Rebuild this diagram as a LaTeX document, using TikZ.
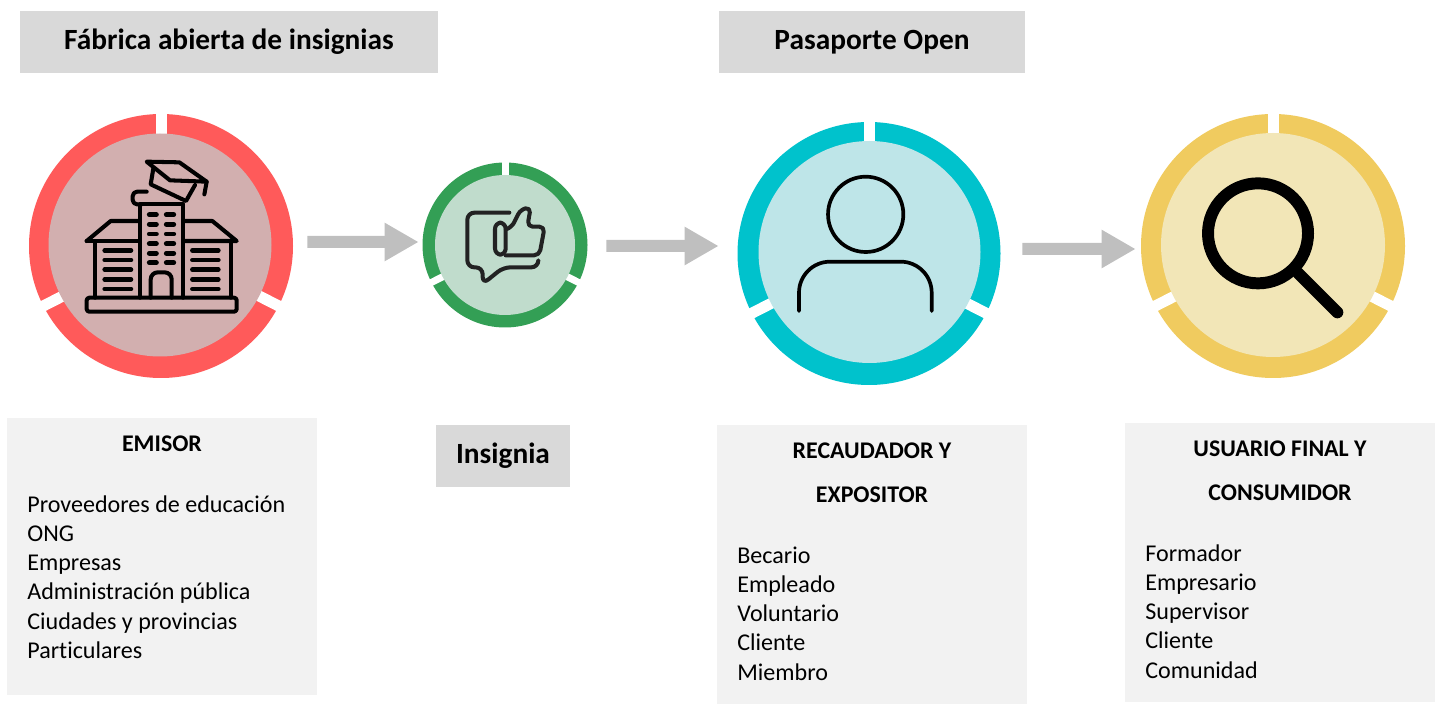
\documentclass[tikz,border=0pt]{standalone}
\usepackage{fontspec}
\setmainfont[Ligatures=NoCommon]{Carlito}
\usepackage{tikz}
\usetikzlibrary{
    arrows.meta,
    positioning
}
\usepackage{xcolor}
\definecolor{headgray}{RGB}{217,217,217}
\definecolor{panelgray}{RGB}{242,242,242}
\definecolor{arrowgray}{RGB}{191,191,191}
\definecolor{ringred}{RGB}{255,90,90}
\definecolor{discred}{RGB}{210,175,175}
\definecolor{ringgreen}{RGB}{51,159,85}
\definecolor{discgreen}{RGB}{192,220,204}
\definecolor{ringteal}{RGB}{0,194,204}
\definecolor{discteal}{RGB}{190,229,232}
\definecolor{ringyellow}{RGB}{240,203,95}
\definecolor{discyellow}{RGB}{242,230,183}
\definecolor{icondark}{RGB}{34,34,34}

\begin{document}
\begin{tikzpicture}[
    x=1cm, y=1cm,
    header/.style={rectangle, fill=headgray, minimum height=1.24cm, font=\fontsize{16.7}{20}\selectfont\bfseries},
    panel/.style={rectangle, fill=panelgray, minimum width=6.2cm, minimum height=5.58cm},
    paneltitle/.style={font=\fontsize{13.6}{25}\selectfont\bfseries, align=center, inner sep=0pt},
    panellist/.style={font=\fontsize{13.7}{16.6}\selectfont, align=left, anchor=west, inner sep=0pt},
    ring/.style={circle, inner sep=0pt},
    disc/.style={circle, inner sep=0pt},
    ringgap/.style={white, line width=0.22cm},
    arrow/.style={-{Triangle[length=6.8mm,width=7.2mm]}, arrowgray, line width=0.24cm},
    iconline/.style={line width=2.3pt, line cap=round, line join=round},
    zoomgrid/.style={x=0.006667cm, y=-0.006667cm}
]
\useasboundingbox (0,0) rectangle (28.86,14.08);

% === HEADERS ===
\node[header, minimum width=8.36cm] (fabrica) at (4.58, 13.24) {Fábrica abierta de insignias};
\node[header, minimum width=6.12cm] (pasaporte) at (17.44, 13.24) {Pasaporte Open};

% === EMISOR CIRCLE ===
\node[ring, fill=ringred, minimum size=5.28cm] (emisor) at (3.22, 9.16) {};
\draw[ringgap] (emisor.center) -- ++(90:2.68);
\draw[ringgap] (emisor.center) -- ++(207:2.68);
\draw[ringgap] (emisor.center) -- ++(333:2.68);
\node[disc, fill=discred, minimum size=4.46cm] (emisordisc) at (3.20, 9.18) {};

% Building icon
\begin{scope}[xshift=0.4cm, yshift=11.98cm, zoomgrid, iconline, black]
    \draw[rounded corners=1.5pt] (200,578) rectangle (650,620);
    \draw (226,408) -- (226,578);
    \draw (632,408) -- (632,578);
    \draw (200,408) -- (272,348) -- (358,348);
    \draw (200,408) -- (358,408);
    \draw (490,348) -- (577,348) -- (650,408) -- (490,408);
    \draw (360,578) -- (360,298) -- (490,298) -- (490,578);
    \draw[rounded corners=2.5pt] (365,298) -- (338,298) -- (338,260) -- (380,260);
    \draw[rounded corners=4pt] (392,578) -- (392,502) -- (455,502) -- (455,578);
    % windows
    \foreach \wy in {329,358,387,416,445,473} {
        \draw[line width=2.8pt] (388,\wy) -- (409,\wy);
        \draw[line width=2.8pt] (439,\wy) -- (461,\wy);
    }
    \foreach \wy in {436,465,494,523,552} {
        \draw[line width=2.6pt] (254,\wy) -- (333,\wy);
        \draw[line width=2.6pt] (517,\wy) -- (595,\wy);
    }
    % cap
    \draw (380,170) -- (478,172) -- (560,230) -- (450,226) -- cycle;
    \draw (400,190) -- (392,238) -- (498,288) -- (525,240);
    \draw (560,230) -- (553,268);
\end{scope}

% === INSIGNIA CIRCLE ===
\node[ring, fill=ringgreen, minimum size=3.30cm] (insignia) at (10.10, 9.18) {};
\draw[ringgap, line width=0.14cm] (insignia.center) -- ++(90:1.69);
\draw[ringgap, line width=0.14cm] (insignia.center) -- ++(207:1.69);
\draw[ringgap, line width=0.14cm] (insignia.center) -- ++(333:1.69);
\node[disc, fill=discgreen, minimum size=2.80cm] (insigniadisc) at (10.10, 9.18) {};

% Thumb icon
\begin{scope}[xshift=8.2cm, yshift=11.08cm, zoomgrid, iconline, icondark]
    \draw[rounded corners=4pt] (298,188) -- (172,188) -- (172,352) -- (218,352) -- (218,402) -- (280,352) -- (385,352) -- (385,332);
    \draw[rounded corners=3.5pt] (255,218) rectangle (287,314);
    \draw[rounded corners=3pt] (287,238) -- (305,232) -- (332,178) -- (362,172) -- (352,230) -- (404,230) -- (388,316) -- (287,316);
\end{scope}

% === EXPOSITOR CIRCLE ===
\node[ring, fill=ringteal, minimum size=5.26cm] (expositor) at (17.38, 9.01) {};
\draw[ringgap] (expositor.center) -- ++(90:2.67);
\draw[ringgap] (expositor.center) -- ++(207:2.67);
\draw[ringgap] (expositor.center) -- ++(333:2.67);
\node[disc, fill=discteal, minimum size=4.44cm] (expositordisc) at (17.39, 9.04) {};

% Person icon
\begin{scope}[xshift=14.6cm, yshift=11.78cm, zoomgrid, black, line cap=round]
    \draw[line width=2.1pt] (407,298) circle[radius=0.753cm];
    \draw[line width=2.1pt, rounded corners=0.62cm] (207,588) -- (207,440) -- (605,440) -- (605,588);
\end{scope}

% === CONSUMIDOR CIRCLE ===
\node[ring, fill=ringyellow, minimum size=5.28cm] (consumidor) at (25.46, 9.16) {};
\draw[ringgap] (consumidor.center) -- ++(90:2.68);
\draw[ringgap] (consumidor.center) -- ++(207:2.68);
\draw[ringgap] (consumidor.center) -- ++(333:2.68);
\node[disc, fill=discyellow, minimum size=4.48cm] (consumidordisc) at (25.46, 9.18) {};

% Magnifier icon
\begin{scope}[xshift=22.6cm, yshift=11.98cm, zoomgrid, black, line cap=round]
    \draw[line width=6.8pt] (384,385) circle[radius=1.0cm];
    \draw[line width=6.8pt] (505,505) -- (622,622);
\end{scope}

% === ARROWS ===
\draw[arrow] ([xshift=0.28cm, yshift=0.08cm]emisor.east) -- ([xshift=-0.07cm, yshift=0.06cm]insignia.west);
\draw[arrow] ([xshift=0.37cm, yshift=-0.02cm]insignia.east) -- ([xshift=-0.37cm, yshift=0.15cm]expositor.west);
\draw[arrow] ([xshift=0.43cm, yshift=0.09cm]expositor.east) -- ([xshift=-0.10cm, yshift=-0.06cm]consumidor.west);

% === PANELS ===
\node[panel, minimum height=5.54cm] (emisorbox) at (3.24, 2.95) {};
\node[paneltitle] (emisortitle) at (3.24, 5.20) {EMISOR};
\node[panellist] (emisorlist) at (0.54, 2.54) {Proveedores de educación\\ONG\\Empresas\\Administración pública\\Ciudades y provincias\\Particulares};

\node[header, minimum width=2.68cm] (insigniabox) at (10.06, 4.96) {Insignia};

\node[panel] (expositorbox) at (17.44, 2.79) {};
\node[paneltitle] (expositortitle) at (17.44, 4.62) {RECAUDADOR Y\\EXPOSITOR};
\node[panellist] (expositorlist) at (14.74, 1.81) {Becario\\Empleado\\Voluntario\\Cliente\\Miembro};

\node[panel] (consumidorbox) at (25.60, 2.83) {};
\node[paneltitle] (consumidortitle) at (25.60, 4.66) {USUARIO FINAL Y\\CONSUMIDOR};
\node[panellist] (consumidorlist) at (22.90, 1.85) {Formador\\Empresario\\Supervisor\\Cliente\\Comunidad};

\end{tikzpicture}
\end{document}
